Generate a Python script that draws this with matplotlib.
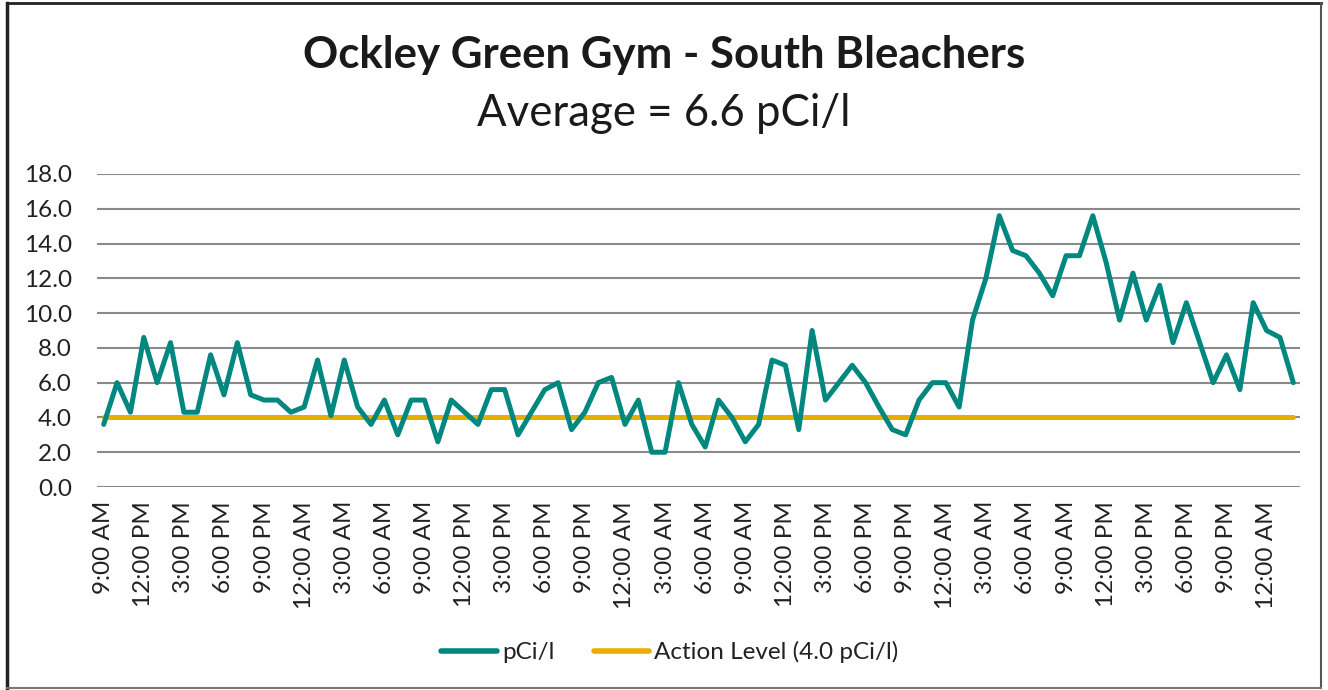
import matplotlib
matplotlib.use("Agg")
import matplotlib.pyplot as plt
from matplotlib.lines import Line2D

plt.rcParams['font.family'] = ['Lato', 'DejaVu Sans']

title = "Ockley Green Gym - South Bleachers"
subtitle = "Average = 6.6 pCi/l"

# hourly readings starting 9:00 AM
pci = [3.6, 6.0, 4.3, 8.6, 6.0, 8.3, 4.3, 4.3, 7.6, 5.3,
       8.3, 5.3, 5.0, 5.0, 4.3, 4.6, 7.3, 4.1, 7.3, 4.6,
       3.6, 5.0, 3.0, 5.0, 5.0, 2.6, 5.0, 4.3, 3.6, 5.6,
       5.6, 3.0, 4.3, 5.6, 6.0, 3.3, 4.3, 6.0, 6.3, 3.6,
       5.0, 2.0, 2.0, 6.0, 3.6, 2.3, 5.0, 4.0, 2.6, 3.6,
       7.3, 7.0, 3.3, 9.0, 5.0, 6.0, 7.0, 6.0, 4.6, 3.3,
       3.0, 5.0, 6.0, 6.0, 4.6, 9.6, 12.0, 15.6, 13.6, 13.3,
       12.3, 11.0, 13.3, 13.3, 15.6, 12.9, 9.6, 12.3, 9.6, 11.6,
       8.3, 10.6, 8.3, 6.0, 7.6, 5.6, 10.6, 9.0, 8.6, 6.0]
action_level = [4.0] * len(pci)

hour_labels = ["9:00 AM", "10:00 AM", "11:00 AM", "12:00 PM", "1:00 PM", "2:00 PM",
               "3:00 PM", "4:00 PM", "5:00 PM", "6:00 PM", "7:00 PM", "8:00 PM",
               "9:00 PM", "10:00 PM", "11:00 PM", "12:00 AM", "1:00 AM", "2:00 AM",
               "3:00 AM", "4:00 AM", "5:00 AM", "6:00 AM", "7:00 AM", "8:00 AM"]
labels = [hour_labels[i % 24] for i in range(len(pci))]
yticks = [0, 2, 4, 6, 8, 10, 12, 14, 16, 18]

teal = "#00877F"
gold = "#E6AE00"

fig = plt.figure(figsize=(13.28, 6.90), dpi=100)
ax = fig.add_axes([97/1328, 1-487/690, (1300-97)/1328, (487-174)/690])

x = list(range(len(pci)))
ax.plot(x, pci, color=teal, lw=3.6, solid_joinstyle='round', solid_capstyle='round', zorder=3)
ax.plot(x, action_level, color=gold, lw=3.6, solid_capstyle='round', zorder=2)

ax.set_xlim(-0.5, len(pci) - 0.5)
ax.set_ylim(0, 18)
ax.set_yticks(yticks)
ax.set_yticklabels([f"{v:.1f}" for v in yticks], fontsize=17.5, color="#222222")
tick_pos = x[::3]
ax.set_xticks(tick_pos)
ax.set_xticklabels([labels[i] for i in tick_pos], rotation=90, fontsize=17.5, color="#222222")
ax.tick_params(axis='both', length=0)
ax.tick_params(axis='y', pad=18)
ax.tick_params(axis='x', pad=10)
for s in ax.spines.values():
    s.set_visible(False)
ax.grid(axis='y', color="#8a8a8a", lw=1.5)
ax.set_axisbelow(True)

fig.text(0.5, 1-55/690, title, ha='center', va='center', fontsize=31.5, fontweight='bold', color="#1a1a1a")
fig.text(0.5, 1-113/690, subtitle, ha='center', va='center', fontsize=31.5, color="#1a1a1a")

handles = [Line2D([0], [0], color=teal, lw=4, solid_capstyle='round'),
           Line2D([0], [0], color=gold, lw=4, solid_capstyle='round')]
fig.legend(handles, ["pCi/l", "Action Level (4.0 pCi/l)"], loc='center',
           bbox_to_anchor=(670/1328, 1-652/690), ncol=2, frameon=False,
           fontsize=17.5, handlelength=2.3, handletextpad=0.2, columnspacing=1.6,
           labelcolor="#222222")

# outer chart frame
fig.add_artist(Line2D([7/1328, 7/1328], [2/690, 1-3/690], transform=fig.transFigure, color="#222222", lw=2.5))
fig.add_artist(Line2D([7/1328, 1321/1328], [1-3/690, 1-3/690], transform=fig.transFigure, color="#222222", lw=2))
fig.add_artist(Line2D([1321/1328, 1321/1328], [2/690, 1-3/690], transform=fig.transFigure, color="#555555", lw=1.5))
fig.add_artist(Line2D([7/1328, 1321/1328], [2/690, 2/690], transform=fig.transFigure, color="#777777", lw=1.5))

fig.savefig("out.png", dpi=100)
